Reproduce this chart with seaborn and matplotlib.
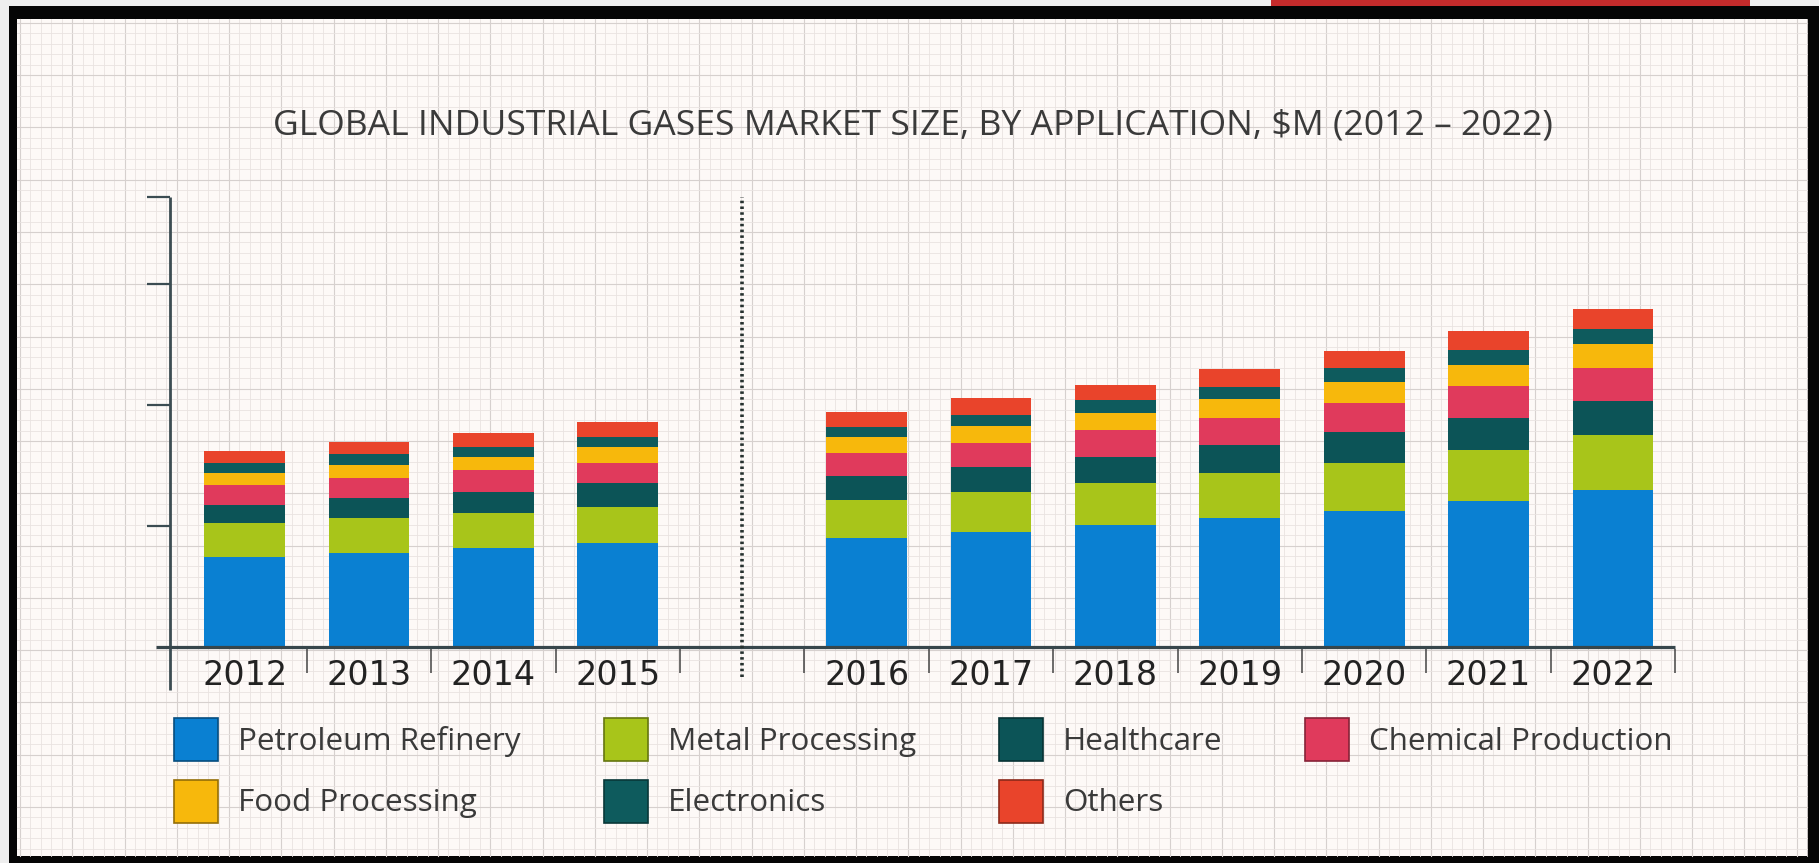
import numpy as np
import pandas as pd
import matplotlib
matplotlib.use("Agg")
import matplotlib.pyplot as plt
import seaborn as sns
from matplotlib import font_manager
from matplotlib.patches import Rectangle, Patch
from matplotlib.transforms import blended_transform_factory
import matplotlib.colors as mcolors

# ---------------- data ----------------
years = ["2012", "2013", "2014", "2015", "2016", "2017", "2018", "2019", "2020", "2021", "2022"]
petroleum = [29800, 31100, 32700, 34400, 36000, 38000, 40300, 42600, 45000, 48300, 51900]
metal = [11200, 11600, 11600, 11900, 12600, 13200, 13900, 14900, 15900, 16900, 18200]
healthcare = [6000, 6600, 6900, 7900, 7900, 8300, 8600, 9300, 10200, 10600, 11200]
chemical = [6600, 6600, 7300, 6600, 7600, 7900, 8900, 8900, 9600, 10600, 10900]
food = [4000, 4300, 4300, 5300, 5300, 5600, 5600, 6300, 6900, 6900, 7900]
electronics = [3300, 3600, 3300, 3300, 3300, 3600, 4300, 4000, 4600, 5000, 5000]
others = [4000, 4000, 4600, 5000, 5000, 5600, 5000, 6000, 5600, 6300, 6600]

series_names = ["Petroleum Refinery", "Metal Processing", "Healthcare", "Chemical Production",
                "Food Processing", "Electronics", "Others"]
series_values = [petroleum, metal, healthcare, chemical, food, electronics, others]
series_colors = ["#0a80d2", "#a8c51a", "#0c5457", "#e03a5c", "#f7b80c", "#0e5b5d", "#e9442b"]

gap_label = " "
split_after = 4            # history (2012-2015) | forecast (2016-2022)
y_tick_values = [40000, 80000, 120000]
y_top = 148800
title = "GLOBAL INDUSTRIAL GASES MARKET SIZE, BY APPLICATION, $M (2012 \u2013 2022)"

# ---------------- fonts ----------------
available = {f.name for f in font_manager.fontManager.ttflist}
def pick(*names):
    for n in names:
        if n in available:
            return n
    return "DejaVu Sans"
text_font = pick("Liberation Sans Narrow", "Open Sans", "Lato")
tick_font = pick("DejaVu Sans")

# ---------------- figure ----------------
W, H = 1819, 863
fig = plt.figure(figsize=(W / 100, H / 100), dpi=100)
fig.patch.set_facecolor("#eeeeee")
renderer = fig.canvas.get_renderer()

# background: frame + graph paper (pixel coordinates)
bg = fig.add_axes([0, 0, 1, 1], zorder=0)
bg.set_xlim(0, W)
bg.set_ylim(H, 0)
bg.axis("off")
bg.add_patch(Rectangle((9, 6), W - 9, H - 6, facecolor="#050505", edgecolor="none"))
x0, y0, x1, y1 = 17, 19, 1807, 856
bg.add_patch(Rectangle((x0, y0), x1 - x0, y1 - y0, facecolor="#fdf9f7", edgecolor="none"))
minor = 10.45
xs = np.arange(x0 + 3, x1, minor)
ys = np.arange(y0 + 4, y1, minor)
for i, xv in enumerate(xs):
    c, lw = ("#d6d0ce", 0.8) if i % 5 == 0 else ("#e9e3e1", 0.6)
    bg.plot([xv, xv], [y0, y1], color=c, lw=lw, zorder=1)
for i, yv in enumerate(ys):
    c, lw = ("#d6d0ce", 0.8) if i % 5 == 0 else ("#e9e3e1", 0.6)
    bg.plot([x0, x1], [yv, yv], color=c, lw=lw, zorder=1)
bg.add_patch(Rectangle((1271, 0), 479, 6, facecolor="#c42b2b", edgecolor="none"))

# ---------------- main axes ----------------
ax_left, ax_right, ax_top, ax_bottom = 170, 1700, 197, 647
ax = fig.add_axes([ax_left / W, (H - ax_bottom) / H, (ax_right - ax_left) / W,
                   (ax_bottom - ax_top) / H], zorder=1)
ax.patch.set_alpha(0)

order = years[:split_after] + [gap_label] + years[split_after:]

rows = []
for yi, yr in enumerate(years):
    cum = 0
    for s, vals in zip(series_names, series_values):
        cum += vals[yi]
        rows.append({"year": yr, "series": s, "value": vals[yi], "cum": cum})
df = pd.DataFrame(rows)

# stacked bars: draw cumulative totals from the top series down
for s, c in reversed(list(zip(series_names, series_colors))):
    sub = df[df["series"] == s]
    sns.barplot(data=sub, x="year", y="cum", order=order, color=c, saturation=1,
                width=0.65, errorbar=None, linewidth=0, ax=ax)

ax.set_xlim(-0.6, 11.7)
ax.set_ylim(0, y_top)
for sp in ax.spines.values():
    sp.set_visible(False)
ax.set_xlabel("")
ax.set_ylabel("")

axis_color = "#3b4c52"
ax.set_yticks(y_tick_values + [y_top])
ax.set_yticklabels([])
ax.tick_params(axis="y", direction="out", length=16.5, width=1.6, color=axis_color)
ax.set_xticks(range(len(order)))
ax.set_xticklabels(order)
ax.tick_params(axis="x", length=0, pad=8.5, labelsize=24, labelcolor="#222222")
for lab in ax.get_xticklabels():
    lab.set_family(tick_font)

trans = blended_transform_factory(ax.transData, ax.transAxes)
hpx = ax_bottom - ax_top
# y axis line (extends below baseline)
ax.plot([-0.6, -0.6], [-43 / hpx, 1], transform=trans, color=axis_color, lw=2.0,
        clip_on=False, solid_capstyle="butt", zorder=3)
# baseline
ax.plot([-0.715, len(order) - 0.5], [0, 0], transform=trans, color="#37464b", lw=2.3,
        clip_on=False, solid_capstyle="butt", zorder=3)
# category separators under the baseline
seps = np.arange(len(order)) + 0.5
ax.vlines(seps, -26 / hpx, -2 / hpx, transform=trans, color="#444444", lw=1.1,
          clip_on=False, zorder=3)
# dotted split line between history and forecast
ax.plot([split_after, split_after], [-30 / hpx, 1], transform=trans, color="#26312f",
        lw=2.6, ls=(0, (0.7, 0.9)), clip_on=False, zorder=3)

# ---------------- title ----------------
def fit_size(s, family, target_px, base=20.0):
    t = fig.text(0, 0, s, fontsize=base, family=family)
    w = t.get_window_extent(renderer).width
    t.remove()
    return base * target_px / w

title_size = fit_size(title, text_font, 1277)
fig.text(913 / W, 1 - 126 / H, title, ha="center", va="center", fontsize=title_size,
         family=text_font, color="#3a3a3a")

# ---------------- legend ----------------
leg_size = fit_size("Petroleum Refinery", text_font, 282)
fs_px = leg_size * 100 / 72
def darker(c, f=0.6):
    r, g, b = mcolors.to_rgb(c)
    return (r * f, g * f, b * f)
handles = {n: Patch(facecolor=c, edgecolor=darker(c), linewidth=1.2)
           for n, c in zip(series_names, series_colors)}
leg_order = ["Petroleum Refinery", "Food Processing", "Metal Processing", "Electronics",
             "Healthcare", "Others", "Chemical Production"]
leg = fig.legend([handles[n] for n in leg_order], leg_order, ncol=4, frameon=False,
                 loc="upper left", bbox_to_anchor=(174 / W, 1 - 718 / H),
                 prop={"family": text_font, "size": leg_size},
                 handlelength=44 / fs_px, handleheight=54 / fs_px,
                 handletextpad=20 / fs_px, columnspacing=83 / fs_px,
                 labelspacing=19 / fs_px, borderpad=0, borderaxespad=0)
for t in leg.get_texts():
    t.set_color("#3a3a3a")

fig.savefig("out.png", dpi=100, facecolor=fig.get_facecolor())
